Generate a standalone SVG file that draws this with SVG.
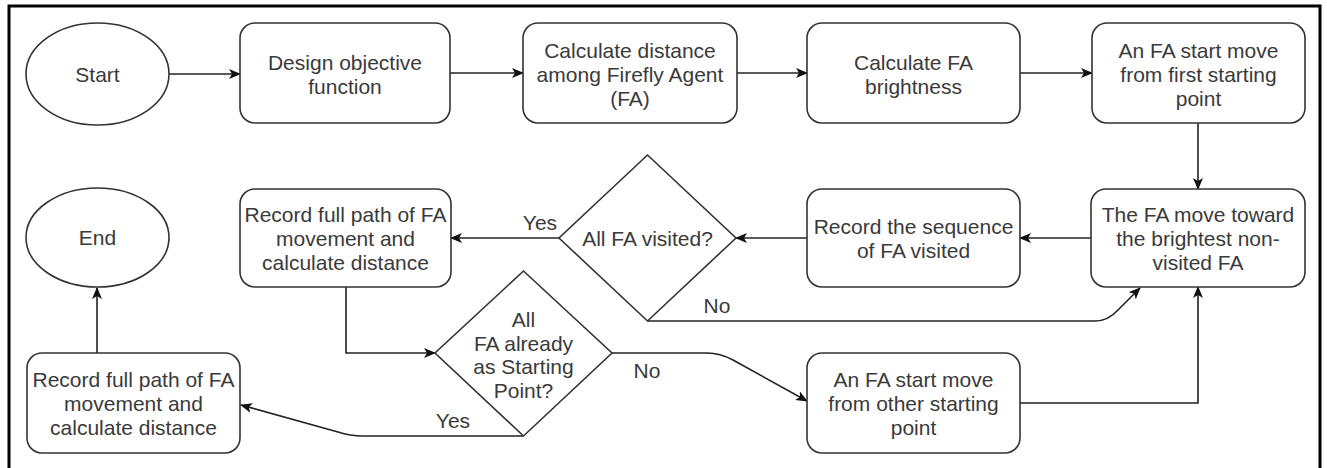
<svg xmlns="http://www.w3.org/2000/svg" width="1327" height="468" viewBox="0 0 1327 468">
<defs>
<marker id="arr" markerWidth="12" markerHeight="10" refX="11" refY="5" orient="auto" markerUnits="userSpaceOnUse">
<path d="M0,0 L12,5 L0,10 L3,5 Z" fill="#111"/>
</marker>
</defs>
<style>
.n{fill:#fff;stroke:#333;stroke-width:1.6}
.t{font-family:"Liberation Sans",Arial,sans-serif;font-size:21px;fill:#3a3a3a;text-anchor:middle}
.c{fill:none;stroke:#222;stroke-width:1.6;marker-end:url(#arr)}
</style>
<rect x="0" y="0" width="1327" height="468" fill="#fff"/>
<rect x="9" y="6" width="1311" height="475" fill="none" stroke="#000" stroke-width="3"/>
<g id="connectors">
<path class="c" d="M169,74 L240,74"/>
<path class="c" d="M450,73 L523,73"/>
<path class="c" d="M737,73 L807,73"/>
<path class="c" d="M1020,73 L1092,73"/>
<path class="c" d="M1198,123 L1198,189"/>
<path class="c" d="M1091,238 L1020,238"/>
<path class="c" d="M807,238 L736,238"/>
<path class="c" d="M559,238 L451,238"/>
<path class="c" d="M648,321 L1095,321 Q1108,321 1118,310 L1140,288"/>
<path class="c" d="M346,287 L346,353 L435,353"/>
<path class="c" d="M612,353 L707,353 Q720,353 733,360 L807,401"/>
<path class="c" d="M523,436 L363,436 Q350,436 338,432 L241,405"/>
<path class="c" d="M1020,403 L1198,403 L1198,287"/>
<path class="c" d="M97,353 L97,288"/>
<text class="t" x="540" y="230">Yes</text>
<text class="t" x="717" y="313">No</text>
<text class="t" x="647" y="378">No</text>
<text class="t" x="453" y="428">Yes</text>
</g>
<g id="start">
<ellipse class="n" cx="97.5" cy="74" rx="71.5" ry="51"/>
<text class="t" x="97.5" y="81.5">Start</text>
</g>
<g id="design">
<rect class="n" x="240" y="23" width="210" height="100" rx="15"/>
<text class="t" x="345" y="69.5">Design objective</text>
<text class="t" x="345" y="93.5">function</text>
</g>
<g id="distance">
<rect class="n" x="523" y="23" width="214" height="100" rx="15"/>
<text class="t" x="630" y="57.5">Calculate distance</text>
<text class="t" x="630" y="81.5">among Firefly Agent</text>
<text class="t" x="630" y="105.5">(FA)</text>
</g>
<g id="brightness">
<rect class="n" x="807" y="23" width="213" height="100" rx="15"/>
<text class="t" x="913.5" y="69.5">Calculate FA</text>
<text class="t" x="913.5" y="93.5">brightness</text>
</g>
<g id="firststart">
<rect class="n" x="1092" y="23" width="213" height="100" rx="15"/>
<text class="t" x="1198.5" y="57.5">An FA start move</text>
<text class="t" x="1198.5" y="81.5">from first starting</text>
<text class="t" x="1198.5" y="105.5">point</text>
</g>
<g id="movetoward">
<rect class="n" x="1091" y="189" width="214" height="98" rx="15"/>
<text class="t" x="1198" y="221.5">The FA move toward</text>
<text class="t" x="1198" y="245.5">the brightest non-</text>
<text class="t" x="1198" y="269.5">visited FA</text>
</g>
<g id="recordseq">
<rect class="n" x="807" y="189" width="213" height="98" rx="15"/>
<text class="t" x="913.5" y="233.5">Record the sequence</text>
<text class="t" x="913.5" y="257.5">of FA visited</text>
</g>
<g id="allvisited">
<polygon class="n" points="647.5,155 736,238 647.5,321 559,238"/>
<text class="t" x="647.5" y="245.5">All FA visited?</text>
</g>
<g id="recordfull1">
<rect class="n" x="240" y="189" width="211" height="98" rx="15"/>
<text class="t" x="345.5" y="221.5">Record full path of FA</text>
<text class="t" x="345.5" y="245.5">movement and</text>
<text class="t" x="345.5" y="269.5">calculate distance</text>
</g>
<g id="end">
<ellipse class="n" cx="97.5" cy="237.5" rx="71.5" ry="49.5"/>
<text class="t" x="97.5" y="245">End</text>
</g>
<g id="allstarting">
<polygon class="n" points="523.5,271 612,353 523.5,436 435,353"/>
<text class="t" x="523.5" y="327">All</text>
<text class="t" x="523.5" y="350.5">FA already</text>
<text class="t" x="523.5" y="374">as Starting</text>
<text class="t" x="523.5" y="397.5">Point?</text>
</g>
<g id="otherstart">
<rect class="n" x="807" y="353" width="213" height="100" rx="15"/>
<text class="t" x="913.5" y="386.5">An FA start move</text>
<text class="t" x="913.5" y="410.5">from other starting</text>
<text class="t" x="913.5" y="434.5">point</text>
</g>
<g id="recordfull2">
<rect class="n" x="27" y="353" width="213" height="100" rx="15"/>
<text class="t" x="133.5" y="386.5">Record full path of FA</text>
<text class="t" x="133.5" y="410.5">movement and</text>
<text class="t" x="133.5" y="434.5">calculate distance</text>
</g>
</svg>
